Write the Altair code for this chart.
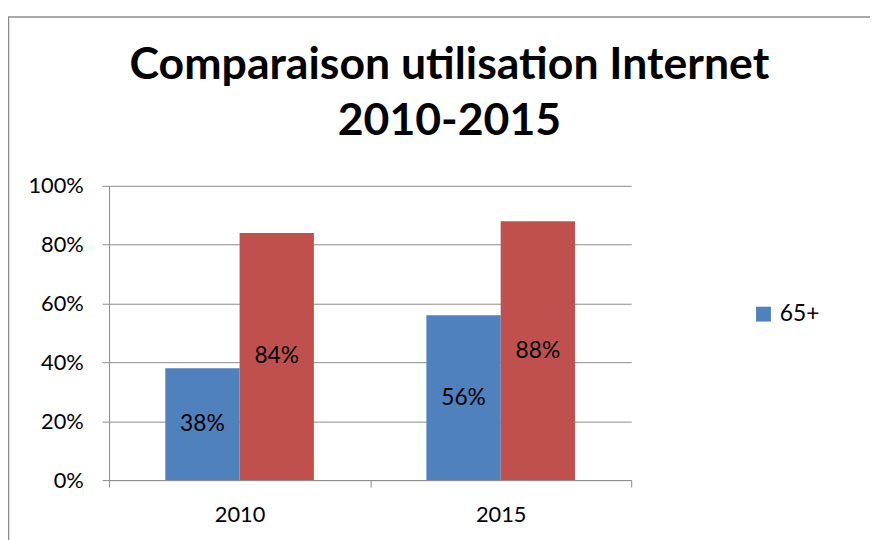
import altair as alt
import pandas as pd

years = ["2010", "2015"]
series = ["65+", "Ensemble"]
values_65 = [0.38, 0.56]
values_all = [0.84, 0.88]
title_lines = ["Comparaison utilisation Internet", "2010-2015"]

rows = []
for i, y in enumerate(years):
    rows.append({"annee": y, "serie": series[0], "valeur": values_65[i]})
    rows.append({"annee": y, "serie": series[1], "valeur": values_all[i]})
df = pd.DataFrame(rows)

FONT = "Lato"
GRAY = "#8c8c8c"

base = alt.Chart(df).encode(
    x=alt.X("annee:N", title=None,
            scale=alt.Scale(paddingInner=0, paddingOuter=0),
            axis=alt.Axis(labelAngle=0, tickBand="extent", tickSize=7,
                          tickColor=GRAY, domainColor=GRAY, labelFontSize=22,
                          labelPadding=18, labelColor="#000", labelFont=FONT)),
    xOffset=alt.XOffset("serie:N", sort=series,
                        scale=alt.Scale(paddingInner=0, paddingOuter=0.757)),
)

bars = base.mark_bar().encode(
    y=alt.Y("valeur:Q", title=None,
            scale=alt.Scale(domain=[0, 1]),
            axis=alt.Axis(format="%", values=[0, 0.2, 0.4, 0.6, 0.8, 1.0],
                          tickSize=7, tickColor=GRAY, domainColor=GRAY,
                          gridColor=GRAY, labelFontSize=22, labelPadding=19,
                          labelColor="#000", labelFont=FONT)),
    color=alt.Color("serie:N", sort=series,
                    scale=alt.Scale(domain=series, range=["#4F81BD", "#C0504D"]),
                    legend=alt.Legend(title=None, values=["65+"], orient="none",
                                      legendX=649, legendY=118,
                                      symbolType="square", symbolSize=225,
                                      symbolStrokeWidth=0, labelFontSize=23,
                                      labelFont=FONT, labelColor="#000",
                                      labelOffset=5, padding=0)),
)

labels = base.mark_text(fontSize=23, font=FONT, color="#000").encode(
    y=alt.Y("mid:Q"),
    text=alt.Text("valeur:Q", format=".0%"),
).transform_calculate(mid="datum.valeur / 2")

frame = alt.Chart(pd.DataFrame({"k": [0]})).mark_rect(
    filled=False, stroke=GRAY, strokeWidth=1.5
).encode(
    x=alt.value(-101.5), x2=alt.value(800),
    y=alt.value(-170.5), y2=alt.value(400),
)

chart = alt.layer(frame, bars, labels).properties(
    width=527, height=297,
    title=alt.Title(text=title_lines, fontSize=45, font=FONT, fontWeight="bold",
                    anchor="middle", frame="group", dx=80, offset=-129,
                    lineHeight=57, color="#000"),
    autosize=alt.AutoSizeParams(type="none"),
    padding={"left": 102, "top": 177, "right": 241, "bottom": 58},
).configure_view(stroke=None).configure_axis(grid=True).configure_axisX(grid=False)

chart.save("out.html", embed_options={"renderer": "svg", "actions": False})
